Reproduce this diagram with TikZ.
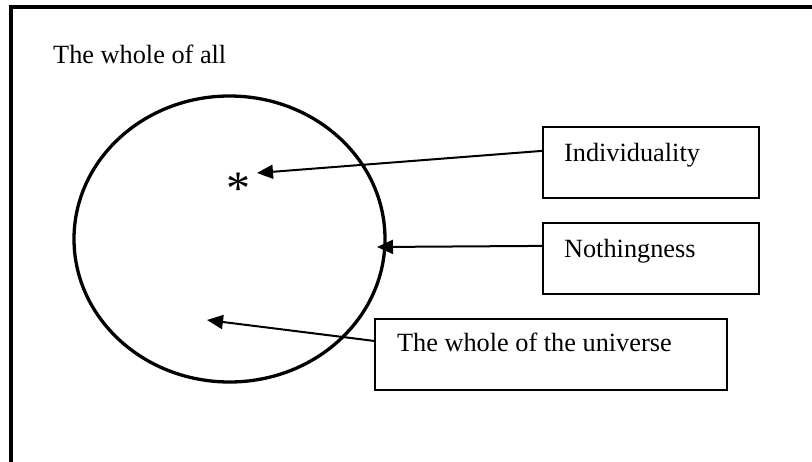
\documentclass[tikz,border=0pt]{standalone}
\usepackage{fontspec}
\setmainfont{Liberation Serif}
\usetikzlibrary{arrows.meta,shapes.geometric,calc}
\begin{document}
\begin{tikzpicture}[x=1pt,y=-1pt,
  frameline/.style={line width=4pt,line cap=rect},
  labelbox/.style={draw,line width=2.2pt,rectangle,inner sep=0pt,minimum height=71pt},
  labeltext/.style={anchor=base west,inner sep=0pt,font=\fontsize{26.3}{30}\selectfont},
  pointer/.style={line width=2pt,-{Triangle[length=16pt,width=14pt]}}]
\useasboundingbox (0,0) rectangle (812,461);
\fill[white] (0,0) rectangle (812,461);
% frame (top and left sides)
\coordinate (ftl) at (11,7);
\coordinate (ftr) at (812,7);
\coordinate (fbl) at (11,461);
\draw[frameline] (fbl) -- (ftl) -- (ftr);
\node[labeltext] (title) at (53,63) {The whole of all};
% the whole of the universe
\node[draw,ellipse,line width=3.3pt,inner sep=0pt,minimum width=311pt,minimum height=286pt] (whole) at (229.5,239) {};
\node[anchor=base,inner sep=0pt,font=\fontsize{48}{52}\selectfont] (star) at (238,204) {*};
% boxes
\node[labelbox,minimum width=216pt] (ind) at (651,162.5) {};
\node[labelbox,minimum width=216pt] (noth) at (651,258.5) {};
\node[labelbox,minimum width=352pt] (univ) at (551,354.5) {};
\node[labeltext] (indt) at ($(ind.north west)+(22,36)$) {Individuality};
\node[labeltext] (notht) at ($(noth.north west)+(22,36)$) {Nothingness};
\node[labeltext] (univt) at ($(univ.north west)+(23,34)$) {The whole of the universe};
% arrows
\coordinate (tipind) at (257,173);
\coordinate (tipnoth) at (377,247);
\coordinate (tipuniv) at (207,320);
\draw[pointer] ($(ind.north west)+(0,25)$) -- (tipind);
\draw[pointer] ($(noth.north west)+(0,24)$) -- (tipnoth);
\draw[pointer] ($(univ.north west)+(0,23)$) -- (tipuniv);
\end{tikzpicture}
\end{document}
